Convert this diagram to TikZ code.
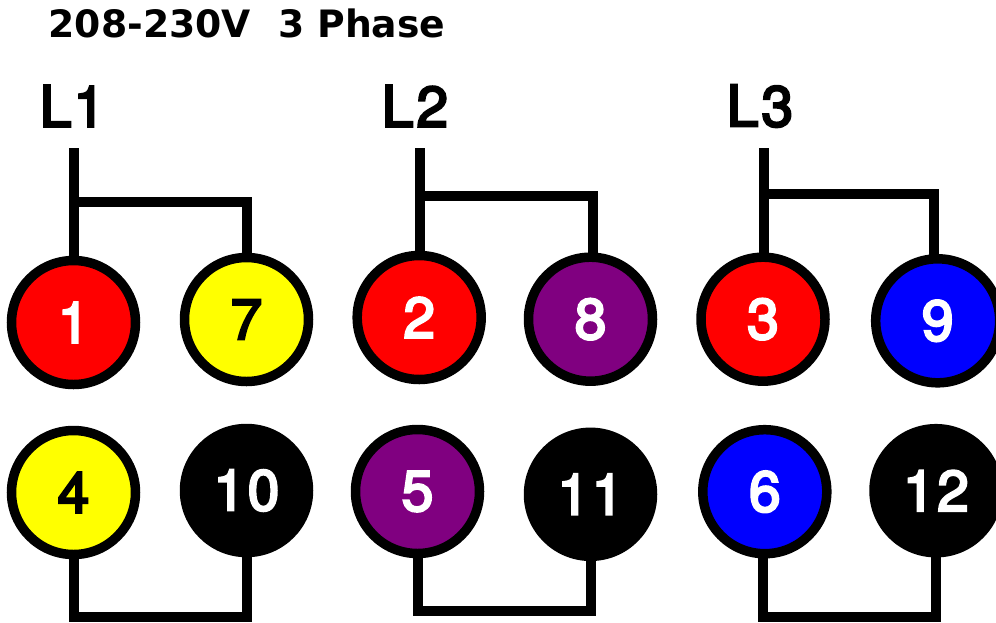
\documentclass[tikz,border=0pt]{standalone}
\usepackage{fontspec}
\setmainfont{DejaVu Sans}
\newfontfamily\numfont[FakeBold=4]{TeX Gyre Heros}
\definecolor{ryellow}{RGB}{255,255,0}
\definecolor{rpurple}{RGB}{128,0,128}
\definecolor{rred}{RGB}{255,0,0}
\definecolor{rblue}{RGB}{0,0,255}
\begin{document}
\begin{tikzpicture}[x=1pt,y=-1pt,
 term/.style={circle,draw=black,line width=9.5pt,minimum size=124pt,inner sep=0pt,outer sep=0pt,font=\numfont\fontsize{57}{57}\selectfont},
 wire/.style={line width=10pt,draw=black,line cap=butt,line join=miter},
 lab/.style={font=\numfont\fontsize{57}{57}\selectfont,text=black,inner sep=0pt}]
\useasboundingbox (0,0) rectangle (996,622);
\node[font=\fontsize{37.7}{37.7}\selectfont\bfseries,inner sep=0pt,anchor=center] (title) at (247,23.5) {208-230V\hspace{0.72em}3 Phase};
\node[lab] (L1) at (72.5,106) {L\kern2pt 1};
\node[lab] (L2) at (415,106) {L\kern3pt 2};
\node[lab] (L3) at (760,106) {L\kern3pt 3};
\coordinate (t1) at (74,148);\coordinate (t2) at (420,148);\coordinate (t3) at (764,148);
\coordinate (b1) at (74,617);\coordinate (b2) at (418,611);\coordinate (b3) at (763,617);
\node[term,fill=rred,text=white] (n1) at (73.5,322.5) {1};
\node[term,fill=ryellow,text=black] (n7) at (246.5,319.5) {7};
\node[term,fill=rred,text=white] (n2) at (419.2,317.5) {2};
\node[term,fill=rpurple,text=white] (n8) at (590.5,319.2) {8};
\node[term,fill=rred,text=white] (n3) at (763,319.2) {3};
\node[term,fill=rblue,text=white] (n9) at (937.7,320.8) {9};
\node[term,fill=ryellow,text=black] (n4) at (73.5,492.5) {4};
\node[term,fill=black,text=white] (n10) at (246.5,490.5) {1\kern2.5pt 0};
\node[term,fill=rpurple,text=white] (n5) at (417.5,491.5) {5};
\node[term,fill=black,text=white] (n11) at (590.5,494.3) {1\kern2.5pt 1};
\node[term,fill=rblue,text=white] (n6) at (764.8,491.7) {6};
\node[term,fill=black,text=white] (n12) at (936,490.7) {1\kern2.5pt 2};
\draw[wire] (t1) -- (t1 |- n1.north);
\draw[wire] (74,202) -- (247,202) -- (247,253);
\draw[wire] (t2) -- (t2 |- n2.north);
\draw[wire] (420,196) -- (593,196) -- (593,253);
\draw[wire] (t3) -- (t3 |- n3.north);
\draw[wire] (764,194) -- (934,194) -- (934,255);
\draw[wire] (b1 |- n4.south) -- (b1) -- (247,617) -- (247,556);
\draw[wire] (b2 |- n5.south) -- (b2) -- (591,611) -- (591,558);
\draw[wire] (b3 |- n6.south) -- (b3) -- (936,617) -- (936,554);
\end{tikzpicture}
\end{document}
